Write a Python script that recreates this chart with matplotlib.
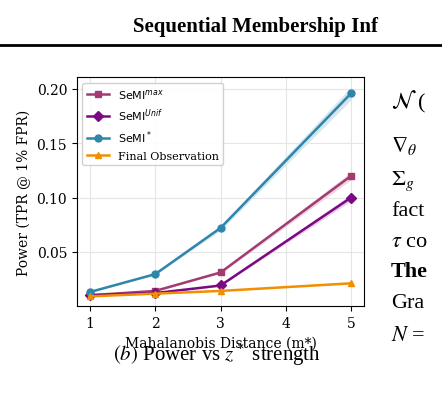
import matplotlib
matplotlib.use("Agg")
import matplotlib.pyplot as plt
from matplotlib.lines import Line2D

x = [1, 2, 3, 5]
semi_max = [0.010, 0.014, 0.031, 0.120]
semi_unif = [0.010, 0.012, 0.019, 0.100]
semi_star = [0.013, 0.0295, 0.072, 0.196]
final_obs = [0.009, 0.0115, 0.014, 0.021]
xticks = [1, 2, 3, 4, 5]
yticks = [0.05, 0.10, 0.15, 0.20]

fig = plt.figure(figsize=(4.42, 4.02), dpi=100)
ax = fig.add_axes([0.174, 0.236, 0.65, 0.570])
series = [
    (semi_max, "#a23b72", "s", r"SeMI$^{max}$"),
    (semi_unif, "#7b0a82", "D", r"SeMI$^{Unif}$"),
    (semi_star, "#2e86ab", "o", r"SeMI$^*$"),
    (final_obs, "#f18f01", "^", "Final Observation"),
]
for ys, c, m, lab in series:
    ax.fill_between(x, [v * 0.97 for v in ys], [v * 1.03 for v in ys], color=c, alpha=0.2, lw=0)
    ax.plot(x, ys, color=c, marker=m, ms=5, lw=1.8, label=lab)
ax.set_xlim(0.8, 5.2)
ax.set_ylim(0.0, 0.211)
ax.set_xticks(xticks)
ax.set_yticks(yticks)
ax.set_yticklabels(["0.05", "0.10", "0.15", "0.20"])
ax.grid(True, color="#e5e5e5", lw=0.8)
ax.tick_params(labelsize=10)
for t in ax.get_xticklabels() + ax.get_yticklabels():
    t.set_family("DejaVu Serif")
ax.set_xlabel("Mahalanobis Distance (m*)", family="DejaVu Serif", fontsize=10)
ax.set_ylabel("Power (TPR @ 1% FPR)", family="DejaVu Serif", fontsize=10)
leg = ax.legend(loc="upper left", fontsize=8, framealpha=0.9)
for t in leg.get_texts()[3:]:
    t.set_family("DejaVu Serif")

fig.text(0.30, 0.932, "Sequential Membership Inf", family="Liberation Serif",
         fontweight="bold", fontsize=15, ha="left", va="center")
fig.add_artist(Line2D([0, 1], [0.885, 0.885], color="black", lw=2, transform=fig.transFigure))
fig.text(0.49, 0.117, r"$(b)$ Power vs $z^*$ strength", family="Liberation Serif",
         fontsize=15, ha="center", va="center", math_fontfamily="stix")
rt = [(0.746, r"$\mathcal{N}$ ("), (0.638, r"$\nabla_\theta$"), (0.548, r"$\Sigma_g$"),
      (0.473, "fact"), (0.396, r"$\tau$ co"), (0.244, "Gra"), (0.162, r"$N$ =")]
for y, s in rt:
    fig.text(0.885, y, s, family="Liberation Serif", fontsize=16, va="center",
             math_fontfamily="stix")
fig.text(0.885, 0.323, "The", family="Liberation Serif", fontsize=16,
         fontweight="bold", va="center")
fig.savefig("out.png", dpi=100)
